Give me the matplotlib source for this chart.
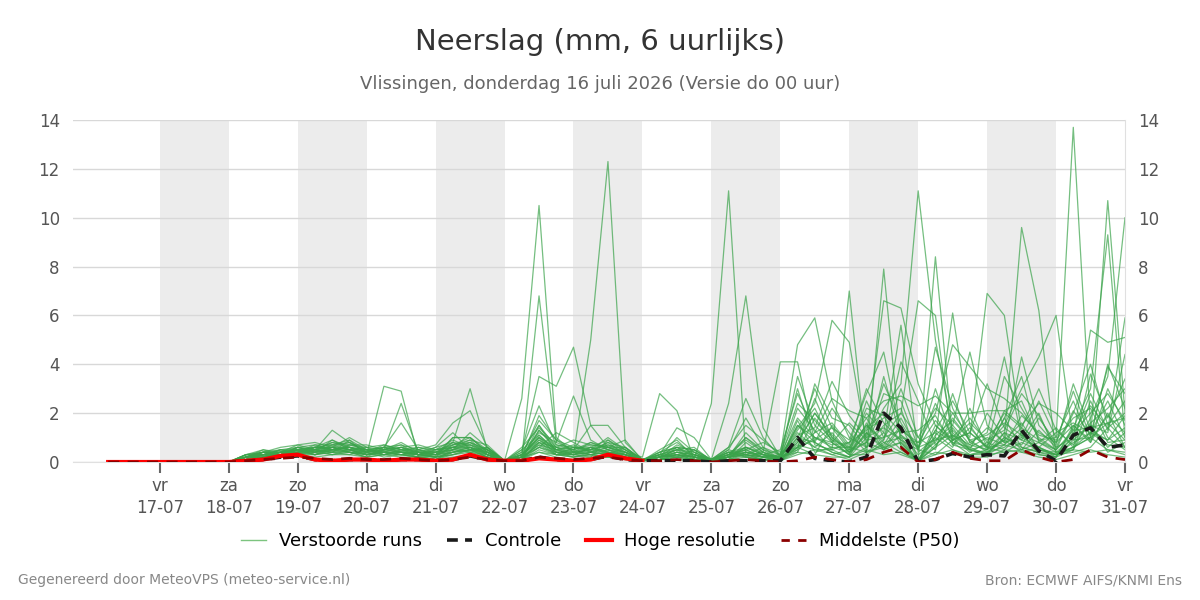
import numpy as np
import matplotlib.pyplot as plt
from matplotlib.lines import Line2D

# tijdstappen: uren na 16-07 00:00 (6-uurlijks, 16-07 06:00 t/m 31-07 00:00)
uren = np.arange(6, 361, 6)

dag_namen = ["vr", "za", "zo", "ma", "di", "wo", "do", "vr", "za", "zo", "ma", "di", "wo", "do", "vr"]
datums = ["17-07", "18-07", "19-07", "20-07", "21-07", "22-07", "23-07", "24-07",
          "25-07", "26-07", "27-07", "28-07", "29-07", "30-07", "31-07"]

# verstoorde runs (ensemble leden), per dag gegroepeerd
runs = [
    [0,0,0, 0,0,0,0, 0,0.2,0.3,0.4, 0.5,0.3,0.6,0.4, 0.3,0.5,0.4,0.2, 0.1,0.5,0.8,0.3, 0.05,0.2,0.6,0.4, 0.3,5.0,12.3,0.8, 0.1,0.2,0.5,0.1, 0.05,0.3,0.5,0.2, 0.1,1.5,0.8,0.4, 0.2,0.6,1.2,0.5, 0.05,8.4,1.0,0.4, 0.8,0.5,1.2,0.3, 0.2,1.5,0.8,2.0, 0.6],
    [0,0.02,0, 0,0,0,0, 0,0.3,0.4,0.3, 0.6,0.4,0.9,0.6, 0.4,0.3,0.5,0.3, 0.2,0.7,1.0,0.4, 0.05,2.6,10.5,1.0, 0.4,0.6,0.3,0.2, 0.05,0.3,0.2,0.1, 0.1,0.5,0.3,0.2, 0.05,0.8,2.0,1.0, 0.4,0.8,2.2,3.2, 11.1,5.0,1.2,0.5, 0.3,1.0,0.6,0.4, 0.2,0.9,1.5,0.6, 1.2],
    [0,0,0, 0,0,0,0, 0,0.1,0.2,0.3, 0.4,0.6,0.5,0.7, 0.5,0.4,0.3,0.2, 0.3,1.0,1.0,0.5, 0.05,0.2,6.8,0.8, 0.5,0.3,0.2,0.3, 0.1,0.1,0.4,0.2, 0.05,0.2,0.6,0.3, 0.2,1.2,0.6,0.3, 0.5,1.5,0.8,0.4, 0.05,0.6,1.1,0.5, 0.3,0.7,1.4,0.9, 1.0,13.7,1.5,0.4, 0.8],
    [0,0,0, 0,0,0,0, 0,0.2,0.3,0.5, 0.3,0.5,1.3,0.8, 0.4,0.6,0.5,0.3, 0.5,0.6,0.4,0.6, 0.05,0.4,3.5,3.1, 4.7,1.5,0.6,0.4, 0.1,0.2,0.3,0.2, 0.1,0.4,0.2,0.1, 0.05,0.5,1.0,0.8, 0.3,0.3,7.9,0.6, 0.05,0.9,1.5,0.7, 0.5,1.8,0.6,0.4, 0.3,0.5,2.5,1.0, 0.5],
    [0,0,0, 0,0,0,0, 0,0.1,0.3,0.3, 0.5,0.4,0.7,0.5, 0.3,3.1,2.9,0.2, 0.1,0.4,0.6,0.3, 0.05,0.3,0.9,0.5, 0.6,0.4,0.5,0.3, 0.05,0.4,0.6,0.2, 0.1,0.2,0.4,0.3, 0.1,2.2,1.3,0.5, 0.2,1.0,1.4,0.9, 0.05,1.3,0.8,0.3, 0.4,1.0,9.6,6.2, 0.3,0.6,1.0,1.6, 0.9],
    [0,0,0, 0,0,0,0, 0,0.3,0.2,0.4, 0.6,0.5,0.4,0.9, 0.3,0.5,2.4,0.4, 0.2,0.3,0.5,0.2, 0.05,0.1,1.3,0.6, 0.3,0.2,0.9,0.4, 0.05,0.2,0.3,0.1, 2.4,11.1,0.2,0.1, 0.05,0.6,0.3,1.5, 0.6,0.4,0.7,1.8, 0.5,0.3,0.9,1.2, 0.6,0.4,0.8,0.5, 0.4,0.6,1.0,10.7, 2.0],
    [0,0,0, 0,0,0,0, 0,0.2,0.4,0.4, 0.4,0.7,0.5,0.6, 0.4,0.6,1.6,0.5, 0.3,0.8,0.5,0.4, 0.05,0.2,1.9,0.9, 0.4,0.5,0.7,0.5, 0.1,0.1,0.3,0.2, 0.1,2.4,6.8,1.4, 0.2,0.4,1.8,0.9, 0.3,1.2,0.6,0.8, 0.05,1.0,0.5,0.3, 0.5,0.9,0.4,0.6, 0.2,1.4,3.0,9.3, 1.0],
    [0,0,0, 0,0,0,0, 0,0.1,0.2,0.3, 0.5,0.3,0.4,0.5, 0.3,0.4,0.6,0.4, 0.4,0.8,3.0,0.5, 0.05,0.1,1.5,0.4, 0.3,0.6,0.4,0.3, 0.05,0.3,0.2,0.1, 0.05,0.3,0.4,0.2, 0.1,0.7,0.5,0.5, 7.0,0.3,0.8,1.0, 0.05,0.7,1.3,0.6, 0.3,1.2,0.5,0.8, 0.4,0.5,1.8,3.5, 10.0],
    [0,0,0, 0,0,0,0, 0,0.2,0.3,0.3, 0.4,0.5,0.8,0.6, 0.5,0.4,0.3,0.5, 0.7,1.6,2.1,0.6, 0.05,0.5,2.3,0.7, 0.5,1.5,1.5,0.6, 0.05,0.1,0.2,0.3, 0.1,0.3,0.6,0.4, 4.1,4.1,0.8,0.4, 0.2,1.6,0.5,1.1, 0.3,0.8,2.0,1.0, 6.9,6.0,1.2,0.6, 0.3,0.8,1.2,0.7, 0.6],
    [0,0,0, 0,0,0,0, 0,0.1,0.3,0.4, 0.7,0.5,0.6,1.0, 0.6,0.3,0.4,0.3, 0.2,1.0,1.0,0.4, 0.05,0.3,1.2,0.8, 2.7,0.9,0.5,0.3, 0.1,0.2,0.3,0.1, 0.1,0.2,0.3,0.2, 0.3,4.8,5.9,2.5, 1.0,0.6,1.5,2.0, 6.6,6.0,0.7,0.5, 0.4,0.9,1.6,0.5, 0.3,0.6,1.2,0.9, 1.4],
    [0,0,0, 0,0,0,0, 0,0.3,0.5,0.4, 0.5,0.3,0.5,0.4, 0.2,0.6,0.4,0.3, 0.3,0.5,0.7,0.3, 0.05,0.2,1.1,0.5, 0.4,0.8,0.6,0.4, 0.2,2.8,2.1,0.1, 0.05,0.4,0.3,0.1, 0.2,1.4,2.4,5.8, 4.9,0.8,0.5,1.4, 0.6,1.7,0.9,0.5, 0.7,1.5,3.0,4.3, 6.0,0.9,1.0,0.5, 0.4],
    [0,0,0, 0,0,0,0, 0,0.2,0.4,0.3, 0.6,0.5,0.4,0.7, 0.7,0.5,0.6,0.4, 0.3,0.6,0.8,0.5, 0.05,0.2,1.0,0.3, 0.6,0.5,1.0,0.5, 0.1,0.3,1.4,1.0, 0.1,0.6,2.6,1.0, 0.2,1.0,0.6,1.2, 0.4,1.1,6.6,6.3, 3.2,1.5,0.8,0.6, 1.0,0.7,0.5,1.3, 0.6,1.0,5.4,4.9, 5.1],
    [0,0,0, 0,0,0,0, 0,0.1,0.2,0.5, 0.4,0.6,0.9,0.5, 0.3,0.4,0.3,0.2, 0.2,0.4,0.6,0.2, 0.05,0.1,0.8,0.4, 0.2,0.4,0.3,0.6, 0.05,0.4,0.8,0.3, 0.05,0.2,1.2,0.5, 0.3,1.8,1.0,0.6, 0.6,2.0,1.2,5.6, 0.4,1.0,6.1,1.5, 0.5,1.2,0.9,2.0, 0.4,1.0,2.8,1.3, 5.9],
    [0,0,0, 0,0,0,0, 0,0.2,0.3,0.2, 0.4,0.4,0.6,0.5, 0.4,0.5,0.7,0.3, 0.4,0.5,0.4,0.3, 0.05,0.3,0.8,0.3, 0.3,0.5,0.4,0.2, 0.05,0.2,0.4,0.3, 0.05,0.5,1.8,0.6, 0.1,3.5,1.5,0.8, 0.3,2.5,1.0,2.0, 1.0,2.2,1.5,4.5, 1.5,0.8,1.0,0.6, 0.3,1.0,1.5,1.2, 4.4],
    [0,0,0, 0,0,0,0, 0,0.3,0.3,0.5, 0.5,0.6,0.7,0.8, 0.5,0.3,0.4,0.3, 0.2,0.3,0.5,0.2, 0.05,0.2,0.7,0.5, 0.3,0.4,0.6,0.3, 0.05,0.1,0.6,0.5, 0.05,0.1,0.8,0.3, 0.5,2.8,1.2,1.6, 0.7,3.0,1.6,0.9, 0.5,4.7,2.2,0.8, 1.2,4.3,1.0,2.5, 1.0,2.5,0.8,3.0, 1.5],
    [0,0,0, 0,0,0,0, 0,0.1,0.4,0.3, 0.3,0.4,0.5,0.6, 0.4,0.7,0.5,0.6, 0.5,0.7,0.9,0.3, 0.05,0.4,1.5,0.6, 0.5,0.8,0.5,0.2, 0.1,0.2,0.5,0.4, 0.1,0.3,0.5,0.8, 0.4,0.6,2.6,1.0, 0.5,0.8,2.8,2.5, 0.6,2.4,1.0,1.8, 0.8,2.0,1.4,3.0, 1.3,0.7,1.6,2.2, 3.0],
    [0,0,0, 0,0,0,0, 0,0.2,0.2,0.3, 0.5,0.6,0.6,0.4, 0.3,0.3,0.5,0.5, 0.3,0.6,0.7,0.4, 0.05,0.1,0.9,0.4, 0.4,0.3,0.5,0.4, 0.05,0.5,0.9,0.2, 0.05,0.2,1.0,0.4, 0.2,0.5,3.2,1.8, 1.5,0.6,3.5,1.0, 0.8,1.2,0.6,2.2, 0.6,2.1,2.5,0.9, 0.5,2.0,4.0,1.5, 2.5],
    [0,0,0, 0,0,0,0, 0,0.1,0.3,0.4, 0.4,0.5,0.4,0.3, 0.5,0.4,0.4,0.6, 0.4,0.5,0.6,0.3, 0.05,0.2,0.6,1.2, 0.8,0.4,0.8,0.3, 0.1,0.1,0.2,0.5, 0.1,0.4,0.2,0.4, 0.1,1.0,0.8,2.2, 1.2,0.4,0.9,4.1, 2.5,0.7,1.4,0.5, 2.0,1.0,0.7,1.8, 0.8,2.9,1.0,4.0, 2.2],
    [0,0,0, 0,0,0,0, 0,0.2,0.5,0.3, 0.5,0.4,0.5,0.6, 0.3,0.5,0.8,0.4, 0.6,1.2,0.5,0.5, 0.05,0.3,1.0,0.5, 0.3,0.6,0.9,0.5, 0.05,0.2,1.0,0.4, 0.05,0.1,0.4,0.2, 0.3,3.0,0.7,0.5, 0.8,1.8,0.6,1.5, 0.05,1.5,0.9,1.2, 3.2,1.4,0.9,0.6, 1.2,1.6,1.2,2.5, 1.0],
    [0,0,0, 0,0,0,0, 0,0.1,0.2,0.2, 0.3,0.3,0.4,0.4, 0.2,0.3,0.3,0.2, 0.1,0.3,0.4,0.2, 0.05,0.1,0.5,0.3, 0.2,0.3,0.2,0.1, 0.05,0.1,0.2,0.1, 0.05,0.1,0.3,0.1, 0.05,0.4,0.3,0.2, 0.2,0.5,0.3,0.4, 0.05,0.4,0.3,0.3, 0.3,0.4,0.5,0.3, 0.2,0.5,0.4,0.5, 0.3],
    [0,0,0, 0,0,0,0, 0,0.3,0.4,0.6, 0.7,0.8,0.6,0.5, 0.3,0.4,0.3,0.4, 0.3,0.4,0.5,0.6, 0.05,0.2,0.4,0.3, 0.3,0.4,0.3,0.2, 0.05,0.2,0.3,0.2, 0.05,0.2,0.3,0.2, 0.1,0.6,1.2,2.6, 2.1,1.8,2.5,2.7, 2.3,2.7,2.0,2.0, 2.1,2.1,1.5,2.4, 2.0,1.3,1.4,1.6, 1.8],
    [0,0,0, 0,0,0,0, 0,0.2,0.3,0.3, 0.4,0.5,0.8,0.7, 0.6,0.5,0.4,0.3, 0.5,0.6,0.6,0.4, 0.05,0.3,1.7,0.9, 0.6,0.6,0.4,0.3, 0.1,0.3,0.5,0.3, 0.1,0.4,0.6,0.3, 0.2,1.3,2.2,0.8, 1.6,0.9,1.0,1.3, 0.8,2.0,4.8,3.9, 3.0,2.6,2.0,1.1, 0.9,1.8,2.2,0.8, 0.9],
    [0,0,0, 0,0,0,0, 0,0.1,0.2,0.3, 0.4,0.3,0.5,0.4, 0.4,0.2,0.3,0.3, 0.2,0.4,0.5,0.3, 0.05,0.1,0.6,0.3, 0.2,0.3,0.4,0.2, 0.05,0.1,0.3,0.2, 0.05,0.2,0.4,0.3, 0.05,1.7,0.4,0.6, 0.4,1.2,0.5,0.8, 0.05,0.6,1.8,0.9, 0.4,0.6,1.1,0.5, 0.3,0.4,0.6,1.4, 0.6],
    [0,0,0, 0,0,0,0, 0,0.2,0.4,0.5, 0.6,0.7,0.7,0.9, 0.5,0.4,0.6,0.7, 0.5,0.9,0.6,0.4, 0.05,0.1,0.8,0.6, 0.9,0.7,0.6,0.9, 0.05,0.2,0.7,0.4, 0.05,0.3,1.0,0.5, 0.1,0.9,3.0,1.4, 0.5,2.2,1.9,0.7, 0.05,1.3,2.5,1.2, 0.6,3.5,2.2,1.0, 0.5,1.2,2.0,2.8, 1.7],
    [0,0,0, 0,0,0,0, 0,0.1,0.3,0.2, 0.5,0.4,0.3,0.5, 0.6,0.7,0.5,0.4, 0.3,0.5,1.2,0.6, 0.05,0.5,1.1,0.4, 0.5,0.7,0.6,0.4, 0.05,0.3,0.5,0.6, 0.05,0.2,0.5,0.2, 0.2,0.6,0.9,1.4, 0.9,2.8,4.5,1.1, 0.6,0.9,1.1,0.7, 1.4,0.8,4.3,1.5, 0.7,3.2,1.3,0.9, 1.9],
    [0,0,0, 0,0,0,0, 0,0.2,0.3,0.3, 0.3,0.6,0.6,0.8, 0.4,0.5,0.6,0.3, 0.6,0.8,0.7,0.5, 0.05,0.2,1.3,0.5, 0.7,0.4,0.6,0.6, 0.1,0.2,0.4,0.3, 0.1,0.2,0.3,0.6, 0.3,2.4,1.7,0.9, 0.6,1.5,0.9,3.0, 1.0,0.5,2.8,0.8, 0.5,1.8,3.5,0.8, 1.4,0.6,3.6,1.8, 3.4],
    [0,0,0, 0,0,0,0, 0,0.1,0.1,0.2, 0.3,0.2,0.3,0.3, 0.2,0.3,0.2,0.2, 0.1,0.2,0.3,0.2, 0.05,0.1,0.4,0.2, 0.1,0.2,0.2,0.1, 0.05,0.1,0.1,0.05, 0.05,0.1,0.2,0.1, 0.05,0.3,0.5,0.3, 0.1,0.4,0.6,0.3, 0.05,0.3,0.5,0.2, 0.2,0.5,0.4,0.2, 0.1,0.3,0.5,0.3, 0.2],
    [0,0,0, 0,0,0,0, 0,0.2,0.3,0.4, 0.5,0.6,0.5,0.6, 0.5,0.6,0.7,0.5, 0.4,0.6,0.9,0.7, 0.05,0.6,1.4,0.7, 0.6,0.5,0.8,0.6, 0.1,0.4,0.6,0.5, 0.1,0.6,1.5,0.9, 0.3,1.1,1.4,3.3, 1.9,1.0,3.2,1.6, 0.5,3.0,0.9,1.6, 0.9,1.3,2.8,1.9, 0.6,2.1,1.1,3.9, 2.8],
    [0,0,0, 0,0,0,0, 0,0.1,0.2,0.4, 0.3,0.5,0.3,0.4, 0.3,0.4,0.4,0.3, 0.3,0.4,0.5,0.4, 0.05,0.2,0.7,0.3, 0.4,0.3,0.4,0.3, 0.05,0.2,0.4,0.2, 0.05,0.3,0.9,0.4, 0.1,0.8,2.0,1.1, 0.4,1.4,2.0,1.2, 1.3,1.9,0.7,1.4, 0.6,0.7,1.9,1.2, 0.8,1.5,0.9,1.9, 1.2],
    [0,0,0, 0,0,0,0, 0,0.2,0.4,0.3, 0.6,0.4,0.6,0.5, 0.5,0.6,0.4,0.4, 0.4,0.7,0.8,0.5, 0.05,0.3,1.0,0.6, 0.4,0.5,0.7,0.4, 0.05,0.3,0.6,0.3, 0.05,0.2,0.6,0.3, 0.2,1.5,1.0,0.7, 0.8,1.3,1.8,2.2, 0.05,1.1,1.7,0.9, 1.1,1.6,1.1,0.8, 0.5,1.3,2.3,1.4, 2.0],
]

controle = [0,0,0, 0,0,0,0, 0,0.05,0.1,0.2, 0.25,0.1,0.05,0.1, 0.1,0.05,0.1,0.1, 0.05,0.1,0.25,0.1,
            0.05,0.05,0.2,0.1, 0.05,0.1,0.25,0.1, 0.05,0.05,0.05,0.05, 0,0.05,0.05,0.05,
            0.05,1.0,0.15,0.05, 0,0.2,2.0,1.4, 0,0.1,0.35,0.2, 0.3,0.25,1.3,0.45, 0.05,1.1,1.4,0.6, 0.7]

# hoge resolutie loopt tot 24-07 00:00
hoge_res = [0,0,0, 0,0,0,0, 0,0.05,0.1,0.25, 0.3,0.1,0.05,0.1, 0.1,0.05,0.1,0.1, 0.05,0.1,0.3,0.1,
            0.05,0.05,0.15,0.1, 0.05,0.1,0.3,0.15, 0.05]

p50 = [0,0,0, 0,0,0,0, 0,0.05,0.1,0.15, 0.2,0.15,0.1,0.15, 0.1,0.1,0.15,0.1, 0.05,0.1,0.2,0.1,
       0.05,0.05,0.2,0.15, 0.1,0.15,0.2,0.1, 0.05,0.05,0.1,0.05, 0,0.05,0.1,0.05,
       0,0.05,0.2,0.1, 0,0.1,0.4,0.6, 0,0.1,0.4,0.15, 0.05,0.05,0.5,0.2, 0,0.1,0.5,0.2, 0.1]

t = uren / 24.0

fig = plt.figure(figsize=(12, 6), dpi=100)
ax = fig.add_axes([73/1200, 1 - 462/600, (1125 - 73)/1200, (462 - 120)/600])

# om de dag grijze achtergrond
for d in range(1, 15, 2):
    ax.axvspan(d, d + 1, color="#ececec", lw=0, zorder=0)

ax.set_xlim(-0.26, 15)
ax.set_ylim(0, 14)
ax.set_yticks(range(0, 15, 2))
ax.yaxis.grid(True, color="#d8d8d8", lw=1)
ax.set_axisbelow(True)

for r in runs:
    ax.plot(t, r, color="#3aa34a", lw=0.9, alpha=0.7, zorder=2)

ax.plot(t, controle, color="#1a1a1a", lw=2.6, ls=(0, (3, 2)), zorder=4)
ax.plot(t[:len(hoge_res)], hoge_res, color="#ff0000", lw=3, zorder=5)
ax.plot(t, p50, color="#8b0000", lw=2, ls=(0, (4, 3)), zorder=6)

ax.set_xticks(range(1, 16))
ax.set_xticklabels([f"{n}\n{d}" for n, d in zip(dag_namen, datums)], linespacing=1.25)
ax.tick_params(axis="x", colors="#666666", labelcolor="#555555", length=8, width=1.5,
               labelsize=12, pad=3)
ax.tick_params(axis="y", left=False, right=False, labelleft=True, labelright=True,
               labelcolor="#555555", labelsize=12, pad=6)

for s in ["top", "left"]:
    ax.spines[s].set_visible(False)
ax.spines["right"].set_color("#e0e0e0")
ax.spines["bottom"].set_color("#e0e0e0")

fig.text(0.5, 0.93, "Neerslag (mm, 6 uurlijks)", ha="center", va="center",
         fontsize=21, color="#333333")
fig.text(0.5, 0.86, "Vlissingen, donderdag 16 juli 2026 (Versie do 00 uur)", ha="center",
         va="center", fontsize=13, color="#666666")

handles = [
    Line2D([], [], color="#7cc47f", lw=1),
    Line2D([], [], color="#1a1a1a", lw=2.6, ls=(0, (3, 2))),
    Line2D([], [], color="#ff0000", lw=3),
    Line2D([], [], color="#8b0000", lw=2, ls=(0, (3, 3))),
]
labels = ["Verstoorde runs", "Controle", "Hoge resolutie", "Middelste (P50)"]
fig.legend(handles, labels, loc="center", bbox_to_anchor=(0.5, 1 - 541/600), ncol=4,
           frameon=False, fontsize=13, handlelength=1.4, columnspacing=1.4, handletextpad=0.7)

fig.text(18/1200, 1 - 580/600, "Gegenereerd door MeteoVPS (meteo-service.nl)", ha="left",
         va="center", fontsize=10, color="#888888")
fig.text(1182/1200, 1 - 580/600, "Bron: ECMWF AIFS/KNMI Ens", ha="right",
         va="center", fontsize=10, color="#888888")

fig.savefig("out.png", dpi=100)
